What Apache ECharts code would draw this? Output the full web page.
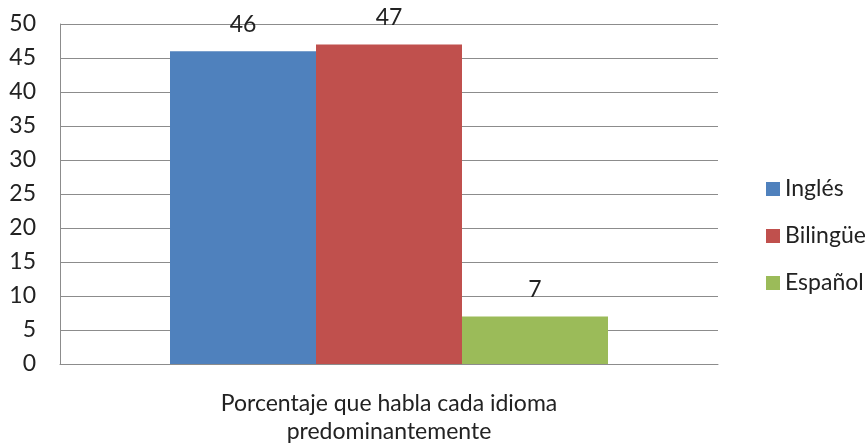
<!DOCTYPE html>
<html>
<head>
<meta charset="utf-8">
<script src="https://cdn.jsdelivr.net/npm/echarts@6/dist/echarts.min.js"></script>
<style>html,body{margin:0;padding:0;background:#fff}#c{width:867px;height:446px}</style>
</head>
<body>
<div id="c"></div>
<script>
const categories = ['Porcentaje que habla cada idioma\npredominantemente'];
const seriesNames = ['Inglés', 'Bilingüe', 'Español'];
const inglesValues = [46];
const bilingueValues = [47];
const espanolValues = [7];
const colors = ['#4F81BD', '#C0504D', '#9BBB59'];

const FONT = 'Lato, "Open Sans", sans-serif';
const FS = 23;
const chart = echarts.init(document.getElementById('c'));
const allValues = [inglesValues, bilingueValues, espanolValues];
chart.setOption({
  animation: false,
  textStyle: { fontFamily: FONT },
  grid: { left: 60, right: 149, top: 24, bottom: 78 },
  legend: {
    orient: 'vertical', left: 761, top: 170,
    itemWidth: 14, itemHeight: 14, itemGap: 19,
    icon: 'rect',
    textStyle: { fontSize: FS, lineHeight: 28, color: '#222', fontFamily: FONT },
    data: seriesNames
  },
  xAxis: {
    type: 'category', data: categories,
    axisLine: { lineStyle: { color: '#8c8c8c' } },
    axisTick: { show: false },
    axisLabel: { fontSize: FS, color: '#222', lineHeight: 28, margin: 26, fontFamily: FONT }
  },
  yAxis: {
    type: 'value', min: 0, max: 50, interval: 5,
    axisLine: { show: true, lineStyle: { color: '#8c8c8c' } },
    axisTick: { show: false },
    splitLine: { lineStyle: { color: '#8c8c8c' } },
    axisLabel: { fontSize: FS, color: '#222', margin: 24, fontFamily: FONT }
  },
  series: seriesNames.map((n, i) => ({
    name: n, type: 'bar', data: allValues[i], barWidth: 146, barGap: '0%',
    itemStyle: { color: colors[i] },
    label: { show: true, position: 'top', distance: 15, fontSize: FS, color: '#222', fontFamily: FONT }
  }))
});
</script>
</body>
</html>
